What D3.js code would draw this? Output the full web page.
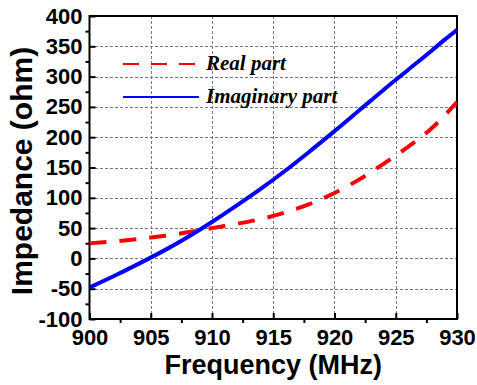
<!DOCTYPE html>
<html>
<head>
<meta charset="utf-8">
<script src="https://cdn.jsdelivr.net/npm/d3@7"></script>
<style>
  body { margin: 0; background: #fff; }
  svg { display: block; }
</style>
</head>
<body>
<div id="chart"></div>
<script>
// data
var freqReal = [900, 902, 904, 906, 908, 910, 912, 914, 916, 918, 920, 922, 924, 926, 928, 930];
var realPart = [25, 28, 32, 37, 43, 50, 57, 65, 76, 90, 108, 130, 156, 184, 216, 258];
var freqImag = [900, 902, 904, 906, 908, 910, 912, 914, 916, 918, 920, 922, 924, 926, 928, 929, 930];
var imagPart = [-48, -29, -9, 12, 35, 60, 87, 115, 145, 177, 210, 244, 278, 311, 344, 361, 377];
var xTicks = [900, 905, 910, 915, 920, 925, 930];
var yTicks = [-100, -50, 0, 50, 100, 150, 200, 250, 300, 350, 400];
var legendNames = ["Real part", "Imaginary part"];

const W = 477, H = 385;
// plot box (note: "top" is a reserved window global, so prefix these)
var pLeft = 89.5, pRight = 457, pTop = 16, pBottom = 319;

var svg = d3.select("#chart").append("svg")
    .attr("width", W)
    .attr("height", H);

var x = d3.scaleLinear().domain([900, 930]).range([pLeft, pRight]);
var y = d3.scaleLinear().domain([-100, 400]).range([pBottom, pTop]);

var sans = "'Liberation Sans', Arial, sans-serif";
var plain = function(d) { return String(d); };   // keep ascii hyphen for negatives

// grid
var grid = svg.append("g")
    .style("stroke", "#7a7a7a")
    .style("stroke-width", "1px")
    .style("stroke-dasharray", "3,2")
    .style("shape-rendering", "crispEdges");

grid.selectAll(".vx")
    .data(xTicks.slice(1, -1))
    .enter()
    .append("line")
    .attr("class", "vx")
    .attr("x1", function(d) { return Math.round(x(d)) + 0.5; })
    .attr("x2", function(d) { return Math.round(x(d)) + 0.5; })
    .attr("y1", pTop)
    .attr("y2", pBottom);

grid.selectAll(".hy")
    .data(yTicks.slice(1, -1))
    .enter()
    .append("line")
    .attr("class", "hy")
    .attr("x1", pLeft)
    .attr("x2", pRight)
    .attr("y1", function(d) { return Math.round(y(d)) + 0.5; })
    .attr("y2", function(d) { return Math.round(y(d)) + 0.5; });

// minor ticks (outward)
var xMinor = d3.range(902.5, 930, 5);
var yMinor = d3.range(-75, 400, 50);

svg.append("g")
    .attr("transform", "translate(0," + pBottom + ")")
    .call(d3.axisBottom(x).tickValues(xMinor).tickSize(4).tickFormat(""))
    .call(function(g) { g.select(".domain").remove(); })
    .selectAll("line").style("stroke-width", "2px");

svg.append("g")
    .attr("transform", "translate(" + pLeft + ",0)")
    .call(d3.axisLeft(y).tickValues(yMinor).tickSize(4).tickFormat(""))
    .call(function(g) { g.select(".domain").remove(); })
    .selectAll("line").style("stroke-width", "2px");

// major axes (ticks inward)
var xAxis = svg.append("g")
    .attr("transform", "translate(0," + pBottom + ")")
    .call(d3.axisBottom(x).tickValues(xTicks).tickFormat(plain)
        .tickSizeInner(-6).tickSizeOuter(0).tickPadding(10));

var yAxis = svg.append("g")
    .attr("transform", "translate(" + pLeft + ",0)")
    .call(d3.axisLeft(y).tickValues(yTicks).tickFormat(plain)
        .tickSizeInner(-6).tickSizeOuter(0).tickPadding(7));

[xAxis, yAxis].forEach(function(a) {
    a.select(".domain").remove();
    a.selectAll("line").style("stroke-width", "2px");
    a.selectAll("text")
        .style("font-family", sans)
        .style("font-weight", "bold")
        .style("font-size", "22px")
        .attr("fill", "#000");
});

// frame
svg.append("rect")
    .attr("x", pLeft)
    .attr("y", pTop)
    .attr("width", pRight - pLeft)
    .attr("height", pBottom - pTop)
    .style("fill", "none")
    .style("stroke", "#000")
    .style("stroke-width", "2px");

// curves
var line = d3.line()
    .x(function(d) { return x(d[0]); })
    .y(function(d) { return y(d[1]); })
    .curve(d3.curveMonotoneX);

svg.append("clipPath").attr("id", "plotclip")
    .append("rect")
    .attr("x", pLeft).attr("y", pTop)
    .attr("width", pRight - pLeft).attr("height", pBottom - pTop);

svg.append("path")
    .datum(d3.zip(freqReal, realPart))
    .attr("d", line)
    .attr("clip-path", "url(#plotclip)")
    .style("fill", "none")
    .style("stroke", "#ff0000")
    .style("stroke-width", "4px")
    .style("stroke-dasharray", "17,13");

svg.append("path")
    .datum(d3.zip(freqImag, imagPart))
    .attr("d", line)
    .attr("clip-path", "url(#plotclip)")
    .style("fill", "none")
    .style("stroke", "#0000ff")
    .style("stroke-width", "4px");

// legend
var legend = svg.append("g");
var legendY = [64, 97];
var legendStyle = [
    {color: "#ff0000", dash: "16,12"},
    {color: "#0000ff", dash: null}
];

legendNames.forEach(function(name, i) {
    legend.append("line")
        .attr("x1", 123)
        .attr("x2", 199)
        .attr("y1", legendY[i])
        .attr("y2", legendY[i])
        .style("stroke", legendStyle[i].color)
        .style("stroke-width", "2px")
        .style("stroke-dasharray", legendStyle[i].dash);
    legend.append("text")
        .attr("x", 206)
        .attr("y", legendY[i] + 6)
        .style("font-family", "'Liberation Serif', 'Times New Roman', serif")
        .style("font-weight", "bold")
        .style("font-style", "italic")
        .style("font-size", "21px")
        .text(name);
});

// axis titles
svg.append("text")
    .attr("x", (pLeft + pRight) / 2)
    .attr("y", 374)
    .attr("text-anchor", "middle")
    .style("font-family", sans)
    .style("font-weight", "bold")
    .style("font-size", "27px")
    .text("Frequency (MHz)");

svg.append("text")
    .attr("transform", "translate(32," + 171 + ") rotate(-90)")
    .attr("text-anchor", "middle")
    .style("font-family", sans)
    .style("font-weight", "bold")
    .style("font-size", "30px")
    .text("Impedance (ohm)");
</script>
</body>
</html>
